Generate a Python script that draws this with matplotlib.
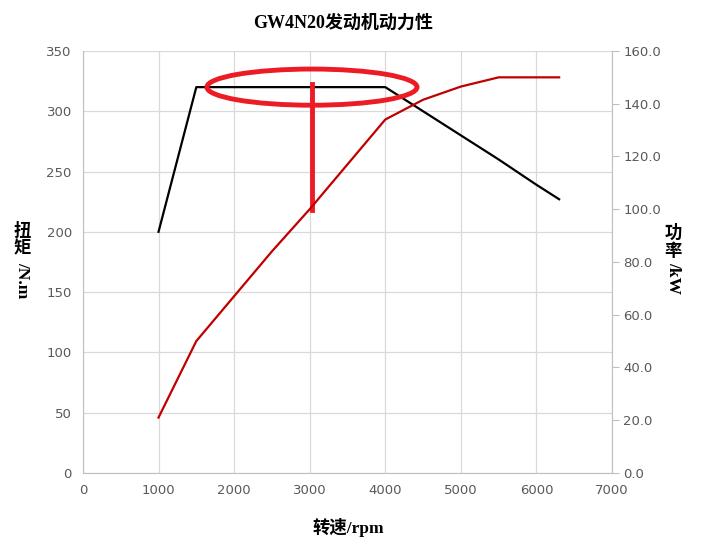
import numpy as np
import matplotlib.pyplot as plt
from matplotlib.patches import Ellipse

plt.rcParams['font.family'] = ['DejaVu Sans', 'Noto Sans CJK SC']

# data
rpm_torque = [1000, 1500, 4000, 4500, 5000, 5500, 6000, 6300]
torque = [200, 320, 320, 300, 280, 260, 239, 227]

rpm_power = [1000, 1500, 2000, 2500, 3000, 3500, 4000, 4500, 5000, 5500, 6000, 6300]
power = [21, 50, 67, 84, 100, 117, 134, 141.5, 146.5, 150, 150, 150]

x_ticks = np.arange(0, 7001, 1000)
left_ticks = np.arange(0, 351, 50)
right_ticks = np.arange(0, 161, 20)

grid_c = '#D9D9D9'
tick_c = '#595959'
serif_cjk = ['Liberation Serif', 'Noto Sans CJK SC']

fig = plt.figure(figsize=(7.15, 5.48), dpi=100)
ax = fig.add_axes([0.116, 0.137, 0.740, 0.770])
ax2 = ax.twinx()

ax.plot(rpm_torque, torque, color='black', lw=1.6, zorder=3)
ax2.plot(rpm_power, power, color='#C00000', lw=1.6, zorder=3)

ax.set_xlim(0, 7000)
ax.set_ylim(0, 350)
ax2.set_ylim(0, 160)
ax.set_xticks(x_ticks)
ax.set_yticks(left_ticks)
ax2.set_yticks(right_ticks)
ax2.set_yticklabels(['%.1f' % v for v in right_ticks])

ax.grid(True, color=grid_c, lw=0.9)
ax.set_axisbelow(True)
for a in (ax, ax2):
    for s in a.spines.values():
        s.set_visible(False)
    a.tick_params(colors=tick_c, labelsize=9.5, length=0)
ax.spines['left'].set_visible(True)
ax.spines['left'].set_color('#BFBFBF')
ax.spines['bottom'].set_visible(True)
ax.spines['bottom'].set_color('#BFBFBF')
ax2.spines['right'].set_visible(True)
ax2.spines['right'].set_color('#BFBFBF')
ax2.tick_params(axis='y', length=5, color='#BFBFBF', pad=3)
ax.tick_params(axis='y', pad=8)
ax.tick_params(axis='x', pad=8)

# hand-drawn red highlight
ax.add_patch(Ellipse((3030, 320), 2780, 30, fill=False, ec='#ED1C24', lw=3.5, zorder=5))
ax.plot([3030, 3030], [323, 218], color='#ED1C24', lw=3.5, zorder=5)

# title and axis labels
fig.text(0.480, 0.957, 'GW4N20发动机动力性', ha='center', va='center',
         fontsize=13, fontweight='bold', family=serif_cjk)
fig.text(0.487, 0.038, '转速/rpm', ha='center', va='center',
         fontsize=12.5, fontweight='bold', family=serif_cjk)

# vertical labels: upright CJK characters, rotated latin part
fig.text(0.031, 0.562, '扭\n矩', ha='center', va='center', linespacing=1.1,
         fontsize=12.5, fontweight='bold', family=serif_cjk)
fig.text(0.031, 0.489, '/N.m', ha='center', va='center', rotation=-90,
         fontsize=12.5, fontweight='bold', family=serif_cjk)
fig.text(0.941, 0.558, '功\n率', ha='center', va='center', linespacing=1.1,
         fontsize=12.5, fontweight='bold', family=serif_cjk)
fig.text(0.941, 0.492, '/kW', ha='center', va='center', rotation=-90,
         fontsize=12.5, fontweight='bold', family=serif_cjk)

fig.savefig('out.png', dpi=100)
